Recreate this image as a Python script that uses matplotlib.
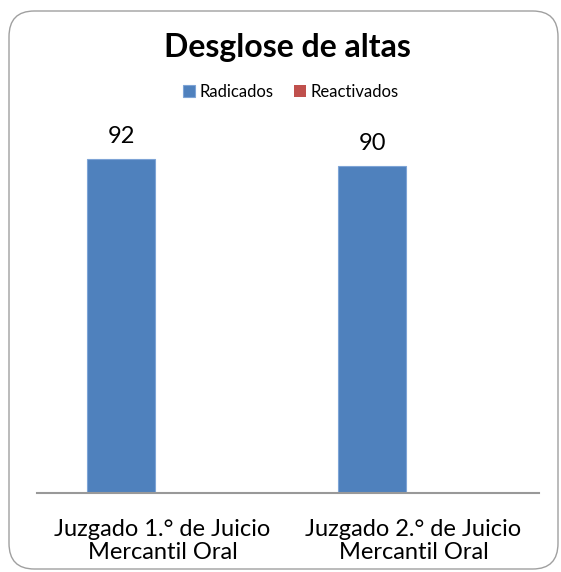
import matplotlib.pyplot as plt
import numpy as np
from matplotlib.patches import FancyBboxPatch

plt.rcParams['font.family'] = ['Lato', 'DejaVu Sans']

# datos
categorias = ['Juzgado 1.° de Juicio\nMercantil Oral', 'Juzgado 2.° de Juicio\nMercantil Oral']
radicados = [92, 90]
reactivados = [0, 0]

fig = plt.figure(figsize=(5.61, 5.72), dpi=100)

# marco redondeado del gráfico
marco = FancyBboxPatch((9 / 561, 3 / 572), 549 / 561, 558 / 572,
                       boxstyle='round,pad=0,rounding_size=0.045',
                       transform=fig.transFigure, facecolor='none',
                       edgecolor='#a0a0a0', linewidth=1.0, zorder=5)
fig.patches.append(marco)

ax = fig.add_axes([37 / 561, 79 / 572, 502 / 561, 363 / 572])
ax.set_facecolor('none')

x = np.arange(len(categorias))
ancho = 0.27
b1 = ax.bar(x - 0.165, radicados, width=ancho, color='#4F81BD',
            edgecolor='#7ea4d6', linewidth=0.8, label='Radicados')
b2 = ax.bar(x + 0.165, reactivados, width=ancho, color='#C0504D',
            linewidth=0, label='Reactivados')

for rect, v in zip(b1, radicados):
    ax.text(rect.get_x() + rect.get_width() / 2, v + 4.4, str(v),
            ha='center', va='baseline', fontsize=17)

ax.set_xlim(-0.5, 1.5)
ax.set_ylim(0, 100)
ax.set_yticks([])
ax.set_xticks(x)
ax.set_xticklabels(categorias, fontsize=17, linespacing=1.08)
ax.tick_params(axis='x', length=0, pad=19)
for s in ['top', 'left', 'right']:
    ax.spines[s].set_visible(False)
ax.spines['bottom'].set_color('#999999')
ax.spines['bottom'].set_linewidth(1.5)

fig.text(287.5 / 561, 1 - 47 / 572, 'Desglose de altas', ha='center', va='center',
         fontsize=23, fontweight='bold')

fig.legend(loc='center', bbox_to_anchor=(291 / 561, 1 - 92 / 572), ncol=2,
           frameon=False, fontsize=12, handlelength=0.7, handleheight=0.7,
           handletextpad=0.3, columnspacing=1.2)

plt.savefig('out.png', dpi=100)
